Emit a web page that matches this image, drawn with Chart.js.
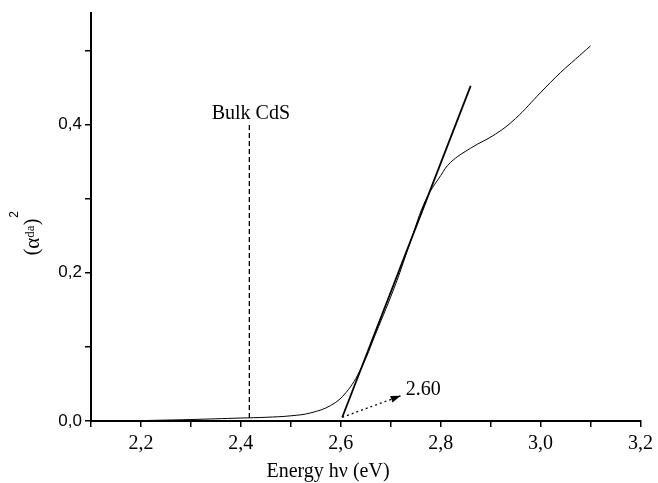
<!DOCTYPE html>
<html>
<head>
<meta charset="utf-8">
<script src="https://cdn.jsdelivr.net/npm/chart.js@4/dist/chart.umd.min.js"></script>
<style>
  body { margin: 0; background: #fff; }
  canvas { display: block; }
</style>
</head>
<body>
<canvas id="myChart" width="658" height="483"></canvas>
<script>
// измеренная кривая (alpha*d)^2 от энергии фотона
const energy = [2.20, 2.30, 2.40, 2.45, 2.50, 2.54, 2.58, 2.61, 2.64, 2.67, 2.71, 2.74,
                2.77, 2.80, 2.82, 2.86, 2.91, 2.95, 3.00, 3.04, 3.07, 3.10];
const absorb = [0.0005, 0.002, 0.004, 0.005, 0.007, 0.011, 0.021, 0.038, 0.070, 0.118, 0.185, 0.243,
                0.298, 0.331, 0.349, 0.368, 0.387, 0.408, 0.443, 0.470, 0.488, 0.506];

// касательная к краю поглощения
const tangentX = [2.603, 2.86];
const tangentY = [0.005, 0.452];

// пунктир Bulk CdS
const bulkX = [2.417, 2.417];
const bulkY = [0.004, 0.40];

// стрелка к 2.60
const arrowX = [2.603, 2.72];
const arrowY = [0.005, 0.034];

const xTicks = [2.2, 2.4, 2.6, 2.8, 3.0, 3.2];
const yTicks = [0.0, 0.2, 0.4];

const toPts = (xs, ys) => xs.map((x, i) => ({x: x, y: ys[i]}));
const isMajor = (v, list) => list.some(t => Math.abs(t - v) < 1e-6);
const onTenth = s => { s.ticks = s.ticks.filter(t => Math.abs(t.value * 10 - Math.round(t.value * 10)) < 1e-6); };

const serif = '"Liberation Serif", "Times New Roman", serif';
const sans = '"Liberation Sans", Arial, sans-serif';

const labels = {
    id: 'labels',
    afterDraw(chart) {
        const ctx = chart.ctx;
        const sx = chart.scales.x, sy = chart.scales.y;
        ctx.save();
        ctx.fillStyle = '#000';
        ctx.textBaseline = 'middle';

        ctx.font = '20px ' + serif;
        ctx.textAlign = 'center';
        ctx.fillText('Bulk CdS', sx.getPixelForValue(2.42), sy.getPixelForValue(0.415));
        ctx.textAlign = 'left';
        ctx.fillText('2.60', sx.getPixelForValue(2.73), sy.getPixelForValue(0.042));

        // наконечник стрелки
        const x1 = sx.getPixelForValue(arrowX[0]), y1 = sy.getPixelForValue(arrowY[0]);
        const x2 = sx.getPixelForValue(arrowX[1]), y2 = sy.getPixelForValue(arrowY[1]);
        const a = Math.atan2(y2 - y1, x2 - x1);
        ctx.beginPath();
        ctx.moveTo(x2, y2);
        ctx.lineTo(x2 - 10 * Math.cos(a) + 3.5 * Math.sin(a), y2 - 10 * Math.sin(a) - 3.5 * Math.cos(a));
        ctx.lineTo(x2 - 10 * Math.cos(a) - 3.5 * Math.sin(a), y2 - 10 * Math.sin(a) + 3.5 * Math.cos(a));
        ctx.closePath();
        ctx.fill();

        // подпись оси X
        ctx.textAlign = 'center';
        ctx.font = '20px ' + serif;
        ctx.fillText('Energy h\u03bd (eV)', 328, 472);

        // подпись оси Y
        ctx.translate(33, 237);
        ctx.rotate(-Math.PI / 2);
        ctx.textAlign = 'left';
        const parts = [['(', '20px ' + serif, 0], ['\u03b1', '21px ' + serif, 0], ['da', '13px ' + serif, -2], [')', '20px ' + serif, 0]];
        let w = 0;
        parts.forEach(p => { ctx.font = p[1]; w += ctx.measureText(p[0]).width; });
        let cx = -w / 2;
        parts.forEach(p => { ctx.font = p[1]; ctx.fillText(p[0], cx, p[2]); cx += ctx.measureText(p[0]).width; });
        ctx.font = '12px ' + sans;
        ctx.fillText('2', cx + 1, -18);
        ctx.restore();
    }
};

new Chart(document.getElementById('myChart').getContext('2d'), {
    type: 'scatter',
    data: {
        datasets: [
            { data: toPts(energy, absorb), showLine: true, borderColor: '#000', borderWidth: 1,
              pointRadius: 0, tension: 0.4 },
            { data: toPts(tangentX, tangentY), showLine: true, borderColor: '#000', borderWidth: 1.8, pointRadius: 0 },
            { data: toPts(bulkX, bulkY), showLine: true, borderColor: '#000', borderWidth: 1.3,
              borderDash: [5, 3], pointRadius: 0 },
            { data: toPts(arrowX, arrowY), showLine: true, borderColor: '#000', borderWidth: 1.3,
              borderDash: [2, 3], pointRadius: 0 }
        ]
    },
    options: {
        responsive: false,
        animation: false,
        layout: { padding: { top: 12, right: 15, left: 0, bottom: 0 } },
        plugins: { legend: { display: false }, tooltip: { enabled: false } },
        scales: {
            x: {
                type: 'linear', min: 2.1, max: 3.2,
                afterBuildTicks: onTenth,
                afterFit: s => { s.height = 62; },
                grid: { drawOnChartArea: false, drawTicks: true, tickLength: 6, color: '#000', lineWidth: 1.5 },
                border: { color: '#000', width: 2 },
                ticks: {
                    stepSize: 0.1, autoSkip: false, maxRotation: 0, padding: 5, color: '#000',
                    font: { family: serif, size: 20 },
                    callback: v => isMajor(v, xTicks) ? v.toFixed(1).replace('.', ',') : ''
                }
            },
            y: {
                type: 'linear', min: 0, max: 0.55,
                afterBuildTicks: onTenth,
                afterFit: s => { s.width = 91; },
                grid: { drawOnChartArea: false, drawTicks: true, tickLength: 6, color: '#000', lineWidth: 1.5 },
                border: { color: '#000', width: 2 },
                ticks: {
                    stepSize: 0.1, autoSkip: false, padding: 3, color: '#000',
                    font: { family: sans, size: 17 },
                    callback: v => isMajor(v, yTicks) ? v.toFixed(1).replace('.', ',') : ''
                }
            }
        }
    },
    plugins: [labels]
});
</script>
</body>
</html>
